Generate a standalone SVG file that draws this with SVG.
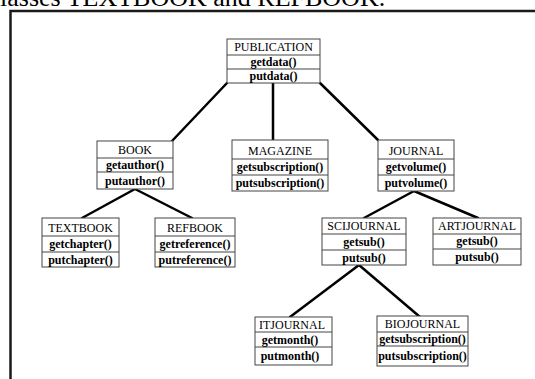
<svg xmlns="http://www.w3.org/2000/svg" width="535" height="379" viewBox="0 0 535 379">
<style>
.box{fill:#fff;stroke:#444;stroke-width:1}
.div{stroke:#444;stroke-width:1}
.t{font-family:"Liberation Serif","Times New Roman",serif;font-size:12px;text-anchor:middle;fill:#000}
.m{font-weight:bold}
.c{stroke:#000;stroke-width:2.5;fill:none;stroke-linecap:round}
</style>
<rect width="535" height="379" fill="#fff"/>
<text x="0" y="6" font-family="Liberation Serif,serif" font-size="26" fill="#000">lasses TEXTBOOK and REFBOOK.</text>
<path d="M10.5 379 V11 H535" fill="none" stroke="#1a1a1a" stroke-width="2.5"/>
<g id="connectors">
<line class="c" x1="227" y1="83" x2="172" y2="141"/>
<line class="c" x1="273" y1="83" x2="273" y2="140"/>
<line class="c" x1="320" y1="83" x2="378" y2="140"/>
<line class="c" x1="135" y1="189" x2="82" y2="218"/>
<line class="c" x1="135" y1="189" x2="192" y2="218"/>
<line class="c" x1="414" y1="191" x2="364" y2="218"/>
<line class="c" x1="414" y1="191" x2="478" y2="218"/>
<line class="c" x1="359" y1="265" x2="290" y2="317"/>
<line class="c" x1="359" y1="265" x2="420" y2="317"/>
</g>
<g id="publication">
<rect class="box" x="227" y="39" width="93" height="44"/>
<line class="div" x1="227" y1="55" x2="320" y2="55"/><line class="div" x1="227" y1="69" x2="320" y2="69"/>
<text class="t" x="273.5" y="51">PUBLICATION</text>
<text class="t m" x="273.5" y="66">getdata()</text>
<text class="t m" x="273.5" y="80">putdata()</text>
</g>
<g id="book">
<rect class="box" x="97" y="141" width="76" height="48"/>
<line class="div" x1="97" y1="158" x2="173" y2="158"/><line class="div" x1="97" y1="172" x2="173" y2="172"/>
<text class="t" x="135" y="154">BOOK</text>
<text class="t m" x="135" y="169">getauthor()</text>
<text class="t m" x="135" y="185">putauthor()</text>
</g>
<g id="magazine">
<rect class="box" x="232" y="140" width="96" height="51"/>
<line class="div" x1="232" y1="159" x2="328" y2="159"/><line class="div" x1="232" y1="175" x2="328" y2="175"/>
<text class="t" x="280" y="155">MAGAZINE</text>
<text class="t m" x="280" y="171">getsubscription()</text>
<text class="t m" x="280" y="187">putsubscription()</text>
</g>
<g id="journal">
<rect class="box" x="378" y="140" width="76" height="51"/>
<line class="div" x1="378" y1="159" x2="454" y2="159"/><line class="div" x1="378" y1="175" x2="454" y2="175"/>
<text class="t" x="416" y="155">JOURNAL</text>
<text class="t m" x="416" y="171">getvolume()</text>
<text class="t m" x="416" y="187">putvolume()</text>
</g>
<g id="textbook">
<rect class="box" x="42" y="218" width="77" height="49"/>
<line class="div" x1="42" y1="236" x2="119" y2="236"/><line class="div" x1="42" y1="252" x2="119" y2="252"/>
<text class="t" x="80.5" y="232">TEXTBOOK</text>
<text class="t m" x="80.5" y="248">getchapter()</text>
<text class="t m" x="80.5" y="264">putchapter()</text>
</g>
<g id="refbook">
<rect class="box" x="155" y="218" width="80" height="49"/>
<line class="div" x1="155" y1="236" x2="235" y2="236"/><line class="div" x1="155" y1="252" x2="235" y2="252"/>
<text class="t" x="195" y="232">REFBOOK</text>
<text class="t m" x="195" y="248">getreference()</text>
<text class="t m" x="195" y="264">putreference()</text>
</g>
<g id="scijournal">
<rect class="box" x="322" y="218" width="84" height="47"/>
<line class="div" x1="322" y1="234" x2="406" y2="234"/><line class="div" x1="322" y1="250" x2="406" y2="250"/>
<text class="t" x="364" y="230">SCIJOURNAL</text>
<text class="t m" x="364" y="246">getsub()</text>
<text class="t m" x="364" y="262">putsub()</text>
</g>
<g id="artjournal">
<rect class="box" x="433" y="218" width="88" height="47"/>
<line class="div" x1="433" y1="234" x2="521" y2="234"/><line class="div" x1="433" y1="249" x2="521" y2="249"/>
<text class="t" x="477" y="230">ARTJOURNAL</text>
<text class="t m" x="477" y="245">getsub()</text>
<text class="t m" x="477" y="261">putsub()</text>
</g>
<g id="itjournal">
<rect class="box" x="255" y="317" width="77" height="48"/>
<line class="div" x1="255" y1="332" x2="332" y2="332"/><line class="div" x1="255" y1="347" x2="332" y2="347"/>
<text class="t" x="292" y="329">ITJOURNAL</text>
<text class="t m" x="290" y="344">getmonth()</text>
<text class="t m" x="290" y="360">putmonth()</text>
</g>
<g id="biojournal">
<rect class="box" x="377" y="316" width="91" height="50"/>
<line class="div" x1="377" y1="332" x2="468" y2="332"/><line class="div" x1="377" y1="346" x2="468" y2="346"/>
<text class="t" x="422.5" y="328">BIOJOURNAL</text>
<text class="t m" x="422.5" y="343">getsubscription()</text>
<text class="t m" x="422.5" y="360">putsubscription()</text>
</g>
</svg>
